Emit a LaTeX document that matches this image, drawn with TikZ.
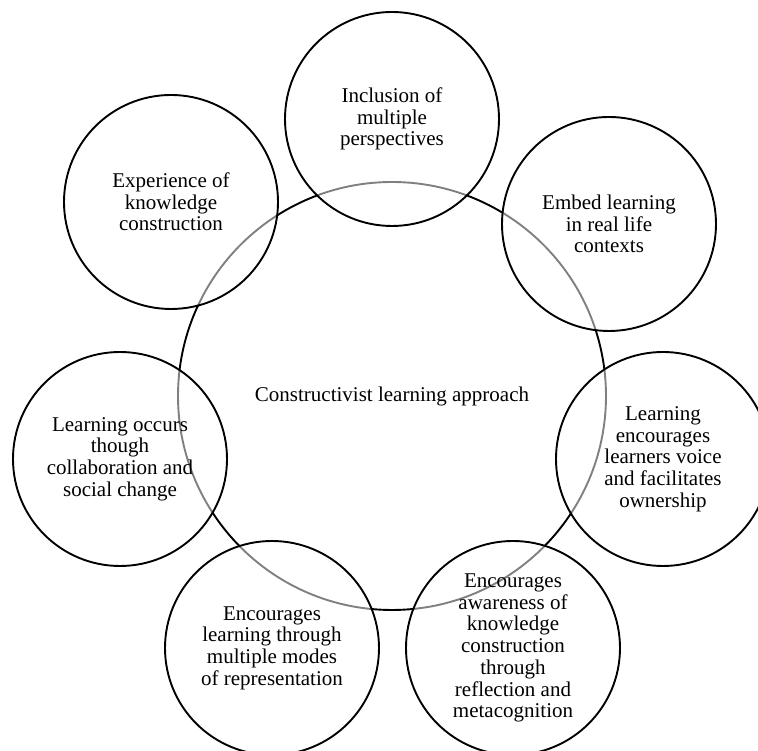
\documentclass[tikz,border=0pt]{standalone}
\usepackage{fontspec}
\setmainfont{Liberation Serif}
\begin{document}
\begin{tikzpicture}[x=1pt,y=1pt,
  hub/.style={circle, draw=black, line width=1.9pt, minimum size=428pt, inner sep=0pt,
    align=center, font=\fontsize{21}{21.7}\selectfont},
  petal/.style={circle, draw=black, line width=1.9pt, minimum size=214pt, inner sep=0pt,
    fill=white, fill opacity=0.5, draw opacity=1, text opacity=1,
    align=center, font=\fontsize{21}{21.7}\selectfont}]
\useasboundingbox (0,0) rectangle (758,751);
% central approach
\node[hub] (core) at (392,355) {Constructivist learning approach};
% surrounding principles
\node[petal] (incl) at (392,632) {Inclusion of\\multiple\\perspectives};
\node[petal] (embed) at (609,527) {Embed learning\\in real life\\contexts};
\node[petal] (voice) at (663,292) {Learning\\encourages\\learners voice\\and facilitates\\ownership};
\node[petal] (aware) at (513,103) {Encourages\\awareness of\\knowledge\\construction\\through\\reflection and\\metacognition};
\node[petal] (modes) at (272,103) {Encourages\\learning through\\multiple modes\\of representation};
\node[petal] (collab) at (120,292) {Learning occurs\\though\\collaboration and\\social change};
\node[petal] (exper) at (171,549) {Experience of\\knowledge\\construction};
\end{tikzpicture}
\end{document}
